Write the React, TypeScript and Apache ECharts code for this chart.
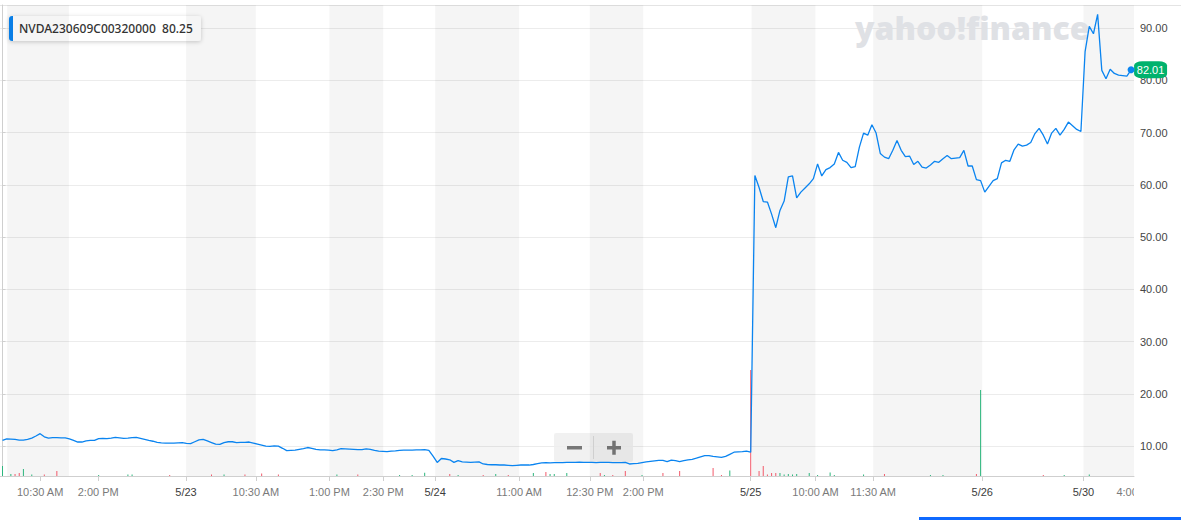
import React, { useEffect, useRef } from "react";
import * as echarts from "echarts";

// ---- data ----
const symbol = "NVDA230609C00320000";
const quote = "80.25";
const lastPrice = 82.01;

// option price, one value per trading bar (uniformly spaced in the chart)
const prices = [
  11.1, 11.4, 11.35, 11.3, 11.15, 11.15, 11.3, 11.55, 11.95, 12.4,
  11.8, 11.55, 11.65, 11.65, 11.6, 11.6, 11.4, 11.1, 10.8, 10.8,
  11.0, 11.1, 11.1, 11.45, 11.5, 11.45, 11.55, 11.7, 11.6, 11.5,
  11.55, 11.65, 11.7, 11.5, 11.3, 11.1, 10.95, 10.75, 10.65, 10.6,
  10.6, 10.6, 10.65, 10.7, 10.55, 10.5, 10.85, 11.2, 11.3, 11.0,
  10.7, 10.4, 10.35, 10.7, 10.85, 10.85, 10.7, 10.75, 10.75, 10.8,
  10.6, 10.4, 10.2, 10.0, 9.95, 10.05, 10.0, 9.6, 9.15, 9.2,
  9.25, 9.4, 9.55, 9.75, 9.6, 9.4, 9.3, 9.3, 9.25, 9.15,
  9.3, 9.55, 9.5, 9.45, 9.4, 9.35, 9.35, 9.5, 9.4, 9.2,
  9.05, 9.0, 8.95, 9.05, 9.1, 9.2, 9.25, 9.25, 9.25, 9.3,
  9.3, 9.35, 9.2, 8.1, 6.9, 7.65, 7.55, 7.4, 6.9, 7.25,
  7.0, 6.95, 6.9, 6.95, 7.0, 6.6, 6.5, 6.45, 6.45, 6.4,
  6.4, 6.35, 6.3, 6.35, 6.4, 6.4, 6.4, 6.5, 6.65, 6.8,
  6.85, 6.8, 6.85, 6.85, 6.85, 6.9, 6.9, 6.9, 6.95, 6.9,
  6.9, 6.9, 6.85, 6.9, 6.9, 6.9, 6.85, 6.85, 6.85, 6.9,
  6.6, 6.65, 6.7, 6.85, 7.0, 7.1, 7.2, 7.3, 7.3, 7.05,
  7.35, 7.25, 7.05, 7.25, 7.4, 7.5, 7.7, 7.95, 8.2, 8.2,
  8.05, 7.95, 7.85, 8.05, 8.45, 8.85, 8.9, 8.95, 9.05, 8.85,
  61.8, 59.5, 56.8, 56.7, 54.4, 51.8, 55.1, 56.9, 61.5, 61.7,
  57.5, 58.6, 59.4, 60.2, 61.2, 64.0, 61.7, 62.9, 63.3, 64.0,
  66.2, 64.7, 64.3, 63.3, 63.5, 67.2, 69.9, 69.5, 71.5, 69.9,
  66.0, 65.3, 65.0, 66.6, 68.5, 66.6, 65.4, 65.5, 63.9, 64.5,
  63.4, 63.2, 63.8, 64.5, 64.3, 65.0, 65.6, 65.0, 65.1, 65.2,
  66.6, 63.6, 63.6, 61.0, 60.8, 58.6, 59.7, 60.8, 61.2, 64.2,
  64.7, 64.5, 66.7, 67.8, 67.4, 67.6, 68.1, 69.8, 70.8, 69.5,
  67.8, 69.9, 70.8, 69.5, 70.6, 72.0, 71.3, 70.6, 70.2, 85.5,
  90.3, 88.9, 92.6, 81.9, 80.3, 82.1, 81.3, 81.0, 80.9, 80.8,
  82.01,
];

// volume bars: bar index, contracts, direction (1 up / 0 down)
const volumeIndex = [
  0, 2, 3, 4, 5, 7, 10, 13, 23, 30, 31, 40, 50, 53, 58, 62, 66, 80, 85, 95,
  98, 101, 107, 109, 115, 118, 121, 127, 130, 131, 132, 135, 143, 144, 146, 149, 153, 158, 162, 170,
  172, 174, 179, 181, 182, 183, 184, 185, 186, 187, 188, 189, 190, 193, 195, 198, 199, 206, 211, 222,
  225, 233, 234, 249, 254, 260,
];
const volumeValue = [
  100, 20, 20, 30, 70, 15, 15, 50, 10, 15, 15, 10, 15, 15, 15, 25, 15, 15, 15, 10,
  10, 33, 20, 10, 10, 20, 10, 30, 40, 20, 20, 30, 30, 10, 10, 50, 10, 30, 50, 80,
  10, 55, 1060, 50, 100, 15, 30, 30, 30, 15, 20, 15, 20, 30, 10, 35, 10, 15, 20, 10,
  10, 20, 860, 10, 10, 15,
];
const volumeUp = [
  1, 1, 0, 0, 1, 1, 0, 0, 1, 1, 1, 0, 0, 1, 0, 0, 0, 1, 0, 1,
  1, 1, 0, 1, 0, 1, 0, 1, 0, 1, 1, 1, 0, 1, 0, 0, 1, 0, 0, 0,
  0, 1, 0, 0, 0, 0, 0, 0, 1, 1, 1, 1, 1, 1, 1, 1, 1, 1, 0, 1,
  1, 0, 1, 0, 1, 1,
];

// x-axis ticks (bar positions) and labels
const tickPositions = [9, 22.9, 43.9, 60.6, 78.2, 91.1, 103.5, 123.6, 140.5, 153.3, 179, 194.5, 208.3, 234.4, 258.6];
const tickLabels = [
  "10:30 AM", "2:00 PM", "5/23", "10:30 AM", "1:00 PM", "2:30 PM", "5/24", "11:00 AM",
  "12:30 PM", "2:00 PM", "5/25", "10:00 AM", "11:30 AM", "5/26", "5/30",
];
const lastTickPosition = 271.4;
const lastTickLabel = "4:00 PM";

// alternating shaded sessions (bar positions)
const shadedStart = [1.1, 43.9, 78.2, 103.5, 140.5, 179.2, 208.3, 258.6];
const shadedEnd = [15.9, 60.6, 91.1, 123.6, 153.3, 194.5, 234.4, 270.7];

const xMin = -0.6;
const xMax = 270.7;
const yMin = 4.3;
const yMax = 94.4;
const volumeAxisMax = 4710;

const BLUE = "#0a84f0";
const GREEN = "#2cb67d";
const RED = "#f2596a";
const AXIS_FONT = '"Liberation Sans", Arial, sans-serif';

export default function App() {
  const ref = useRef<HTMLDivElement>(null);

  useEffect(() => {
    if (!ref.current) return;
    const chart = echarts.init(ref.current, undefined, { renderer: "svg" });

    const lineData = prices.map((v, i) => [i, v]);
    const volData = volumeIndex.map((idx, k) => ({
      value: [idx, volumeValue[k]],
      itemStyle: { color: volumeUp[k] ? GREEN : RED },
    }));
    const areas = shadedStart.map((s, k) => [{ xAxis: s }, { xAxis: shadedEnd[k] }]);
    const lastIdx = prices.length - 1;

    const option: any = {
      animation: false,
      backgroundColor: "#ffffff",
      grid: { left: 0, right: 47, top: 5, bottom: 44, containLabel: false },
      xAxis: {
        type: "value",
        min: xMin,
        max: xMax,
        axisLine: { show: true, lineStyle: { color: "#cfcfcf", width: 1 } },
        axisTick: {
          show: true,
          customValues: tickPositions,
          length: 5,
          lineStyle: { color: "#cfcfcf" },
        },
        axisLabel: {
          show: true,
          customValues: tickPositions,
          margin: 10,
          fontSize: 11,
          fontFamily: AXIS_FONT,
          hideOverlap: false,
          formatter: (val: number) => {
            const k = tickPositions.findIndex((p) => Math.abs(p - val) < 1e-6);
            const t = k >= 0 ? tickLabels[k] : "";
            return t.indexOf("/") >= 0 ? `{d|${t}}` : `{t|${t}}`;
          },
          rich: {
            d: { color: "#3c3c3c", fontSize: 11, fontFamily: AXIS_FONT },
            t: { color: "#7a7a7a", fontSize: 11, fontFamily: AXIS_FONT },
          },
        },
        splitLine: { show: false },
      },
      yAxis: [
        {
          type: "value",
          position: "right",
          min: yMin,
          max: yMax,
          minInterval: 10,
          maxInterval: 10,
          axisLine: { show: true, lineStyle: { color: "#cfcfcf" } },
          axisTick: { show: true, length: 3, lineStyle: { color: "#cfcfcf" } },
          axisLabel: {
            showMinLabel: false,
            showMaxLabel: false,
            margin: 6,
            fontSize: 11,
            fontFamily: AXIS_FONT,
            color: "#464646",
            formatter: (v: number) => v.toFixed(2),
          },
          splitLine: { show: true, lineStyle: { color: "#ececec", width: 1 } },
        },
        {
          type: "value",
          show: false,
          min: 0,
          max: volumeAxisMax,
          splitLine: { show: false },
        },
      ],
      series: [
        {
          type: "bar",
          name: "Volume",
          yAxisIndex: 1,
          barWidth: 1,
          z: 2,
          silent: true,
          data: volData,
          markArea: {
            silent: true,
            itemStyle: { color: "rgba(0,0,0,0.04)" },
            data: areas,
          },
        },
        {
          type: "line",
          name: symbol,
          z: 3,
          showSymbol: false,
          symbol: "none",
          silent: true,
          lineStyle: { color: BLUE, width: 1.3 },
          data: lineData,
          markPoint: {
            silent: true,
            data: [
              {
                coord: [lastIdx, prices[lastIdx]],
                symbol: "roundRect",
                symbolSize: [33, 17],
                symbolOffset: [19.5, 0],
                itemStyle: { color: "#00b26d" },
                label: {
                  show: true,
                  position: "inside",
                  formatter: lastPrice.toFixed(2),
                  color: "#ffffff",
                  fontSize: 11,
                  fontFamily: AXIS_FONT,
                },
              },
              {
                coord: [lastIdx, prices[lastIdx]],
                symbol: "circle",
                symbolSize: 7,
                itemStyle: { color: BLUE },
                label: { show: false },
              },
            ],
          },
        },
      ],
    };

    chart.setOption(option);

    const px = chart.convertToPixel({ xAxisIndex: 0 }, lastTickPosition) as number;
    const plotRight = chart.convertToPixel({ xAxisIndex: 0 }, xMax) as number;

    chart.setOption({
      graphic: [
        {
          type: "line",
          z: 0,
          silent: true,
          shape: { x1: 0, y1: 5.5, x2: 1181, y2: 5.5 },
          style: { stroke: "#e4e4e4", lineWidth: 1 },
        },
        {
          type: "text",
          z: 1,
          silent: true,
          x: 855,
          y: 11,
          style: {
            text: "yahoo!finance",
            font: '800 32px "Open Sans", sans-serif',
            fill: "#dfe1e5",
          },
        },
        {
          type: "group",
          z: 10,
          silent: true,
          x: 9,
          y: 16,
          children: [
            {
              type: "rect",
              shape: { x: 0, y: 0, width: 192, height: 25, r: 3 },
              style: { fill: "#ffffff", shadowBlur: 4, shadowColor: "rgba(0,0,0,0.2)", shadowOffsetY: 1 },
            },
            {
              type: "rect",
              shape: { x: 0, y: 0, width: 4, height: 25, r: [3, 0, 0, 3] },
              style: { fill: BLUE },
            },
            {
              type: "text",
              x: 10,
              y: 12.5,
              style: {
                text: `${symbol}  ${quote}`,
                font: '500 12px "Noto Sans", sans-serif',
                fill: "#333333",
                verticalAlign: "middle",
              },
            },
          ],
        },
        {
          type: "group",
          z: 10,
          silent: true,
          x: 554,
          y: 433,
          children: [
            {
              type: "rect",
              shape: { x: 0, y: 0, width: 79, height: 29, r: 2 },
              style: { fill: "rgba(238,238,238,0.85)" },
            },
            {
              type: "line",
              shape: { x1: 39.5, y1: 3, x2: 39.5, y2: 26 },
              style: { stroke: "#d8d8d8", lineWidth: 1 },
            },
            { type: "rect", shape: { x: 13, y: 13, width: 15, height: 3.5 }, style: { fill: "#777777" } },
            { type: "rect", shape: { x: 53, y: 13, width: 14, height: 3.5 }, style: { fill: "#777777" } },
            { type: "rect", shape: { x: 58.25, y: 7.75, width: 3.5, height: 14 }, style: { fill: "#777777" } },
          ],
        },
        {
          type: "text",
          z: 5,
          silent: true,
          x: px,
          y: 492,
          style: {
            text: lastTickLabel,
            font: `11px ${AXIS_FONT}`,
            fill: "#7a7a7a",
            align: "center",
            verticalAlign: "middle",
          },
        },
        {
          type: "rect",
          z: 6,
          silent: true,
          shape: { x: plotRight, y: 482, width: 1181 - plotRight, height: 22 },
          style: { fill: "#ffffff" },
        },
        {
          type: "rect",
          z: 6,
          silent: true,
          shape: { x: 919, y: 517, width: 262, height: 3 },
          style: { fill: "#0f69ff" },
        },
      ],
    });

    return () => {
      chart.dispose();
    };
  }, []);

  return (
    <div
      ref={ref}
      style={{ position: "fixed", left: 0, top: 0, width: 1181, height: 520, background: "#fff" }}
    />
  );
}
